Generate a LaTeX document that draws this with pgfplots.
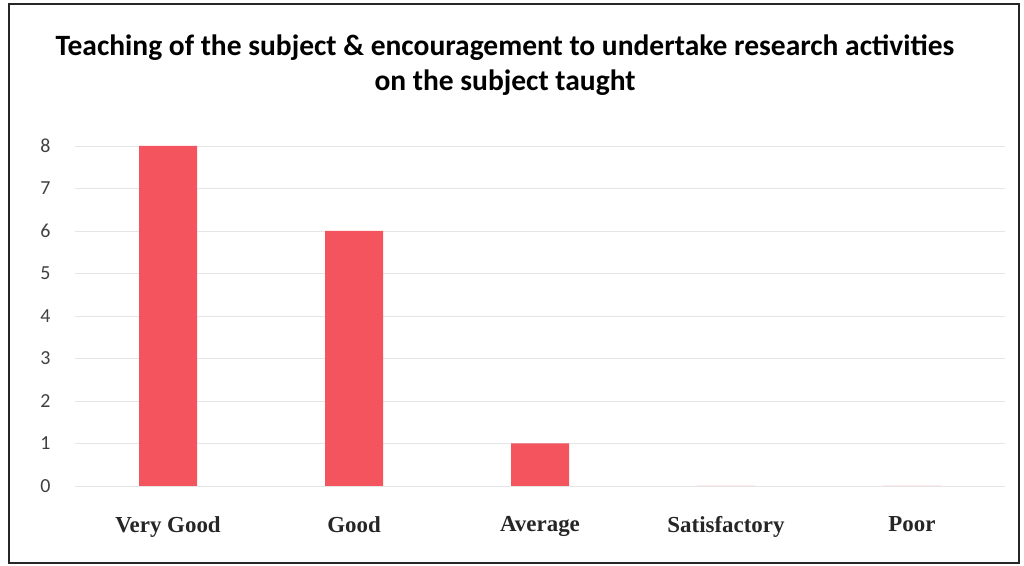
\documentclass[border=0pt]{standalone}
\usepackage{pgfplots}
\pgfplotsset{compat=1.18}
\usepackage{fontspec}
\setmainfont{Carlito}
\newfontfamily\timesfont{Liberation Serif}
\definecolor{barred}{RGB}{243,84,94}
\begin{document}
\begin{tikzpicture}[x=1bp,y=1bp]
\path (0,0) rectangle (1024,566);
\draw[line width=1.6bp, black!85] (9,3) rectangle (1019,562);
\node[font=\fontsize{29.6}{33}\selectfont\bfseries] at (505,518) {Teaching of the subject \& encouragement to undertake research activities};
\node[font=\fontsize{29.6}{33}\selectfont\bfseries] at (505,483) {on the subject taught};
\begin{axis}[
  at={(75bp,80bp)}, anchor=south west,
  scale only axis, width=930bp, height=340bp,
  xmin=-0.5, xmax=4.5, ymin=0, ymax=8,
  axis line style={draw=none},
  major tick length=0pt,
  ytick={0,...,8},
  xtick={0,1,2,3,4},
  xticklabels={Very Good,Good,Average,Satisfactory,Poor},
  ymajorgrids,
  grid style={black!10, line width=0.8bp},
  /pgf/number format/assume math mode=true,
  yticklabel style={font=\fontsize{20}{24}\selectfont, text=black!75, xshift=-21bp},
  xticklabel style={font=\fontsize{23}{27}\timesfont\bfseries, text=black!85, yshift=-27bp},
]
\addplot[ybar, bar width=58bp, fill=barred, draw=none] coordinates {(0,8) (1,6) (2,1) (3,0) (4,0)};
\end{axis}
\end{tikzpicture}
\end{document}
